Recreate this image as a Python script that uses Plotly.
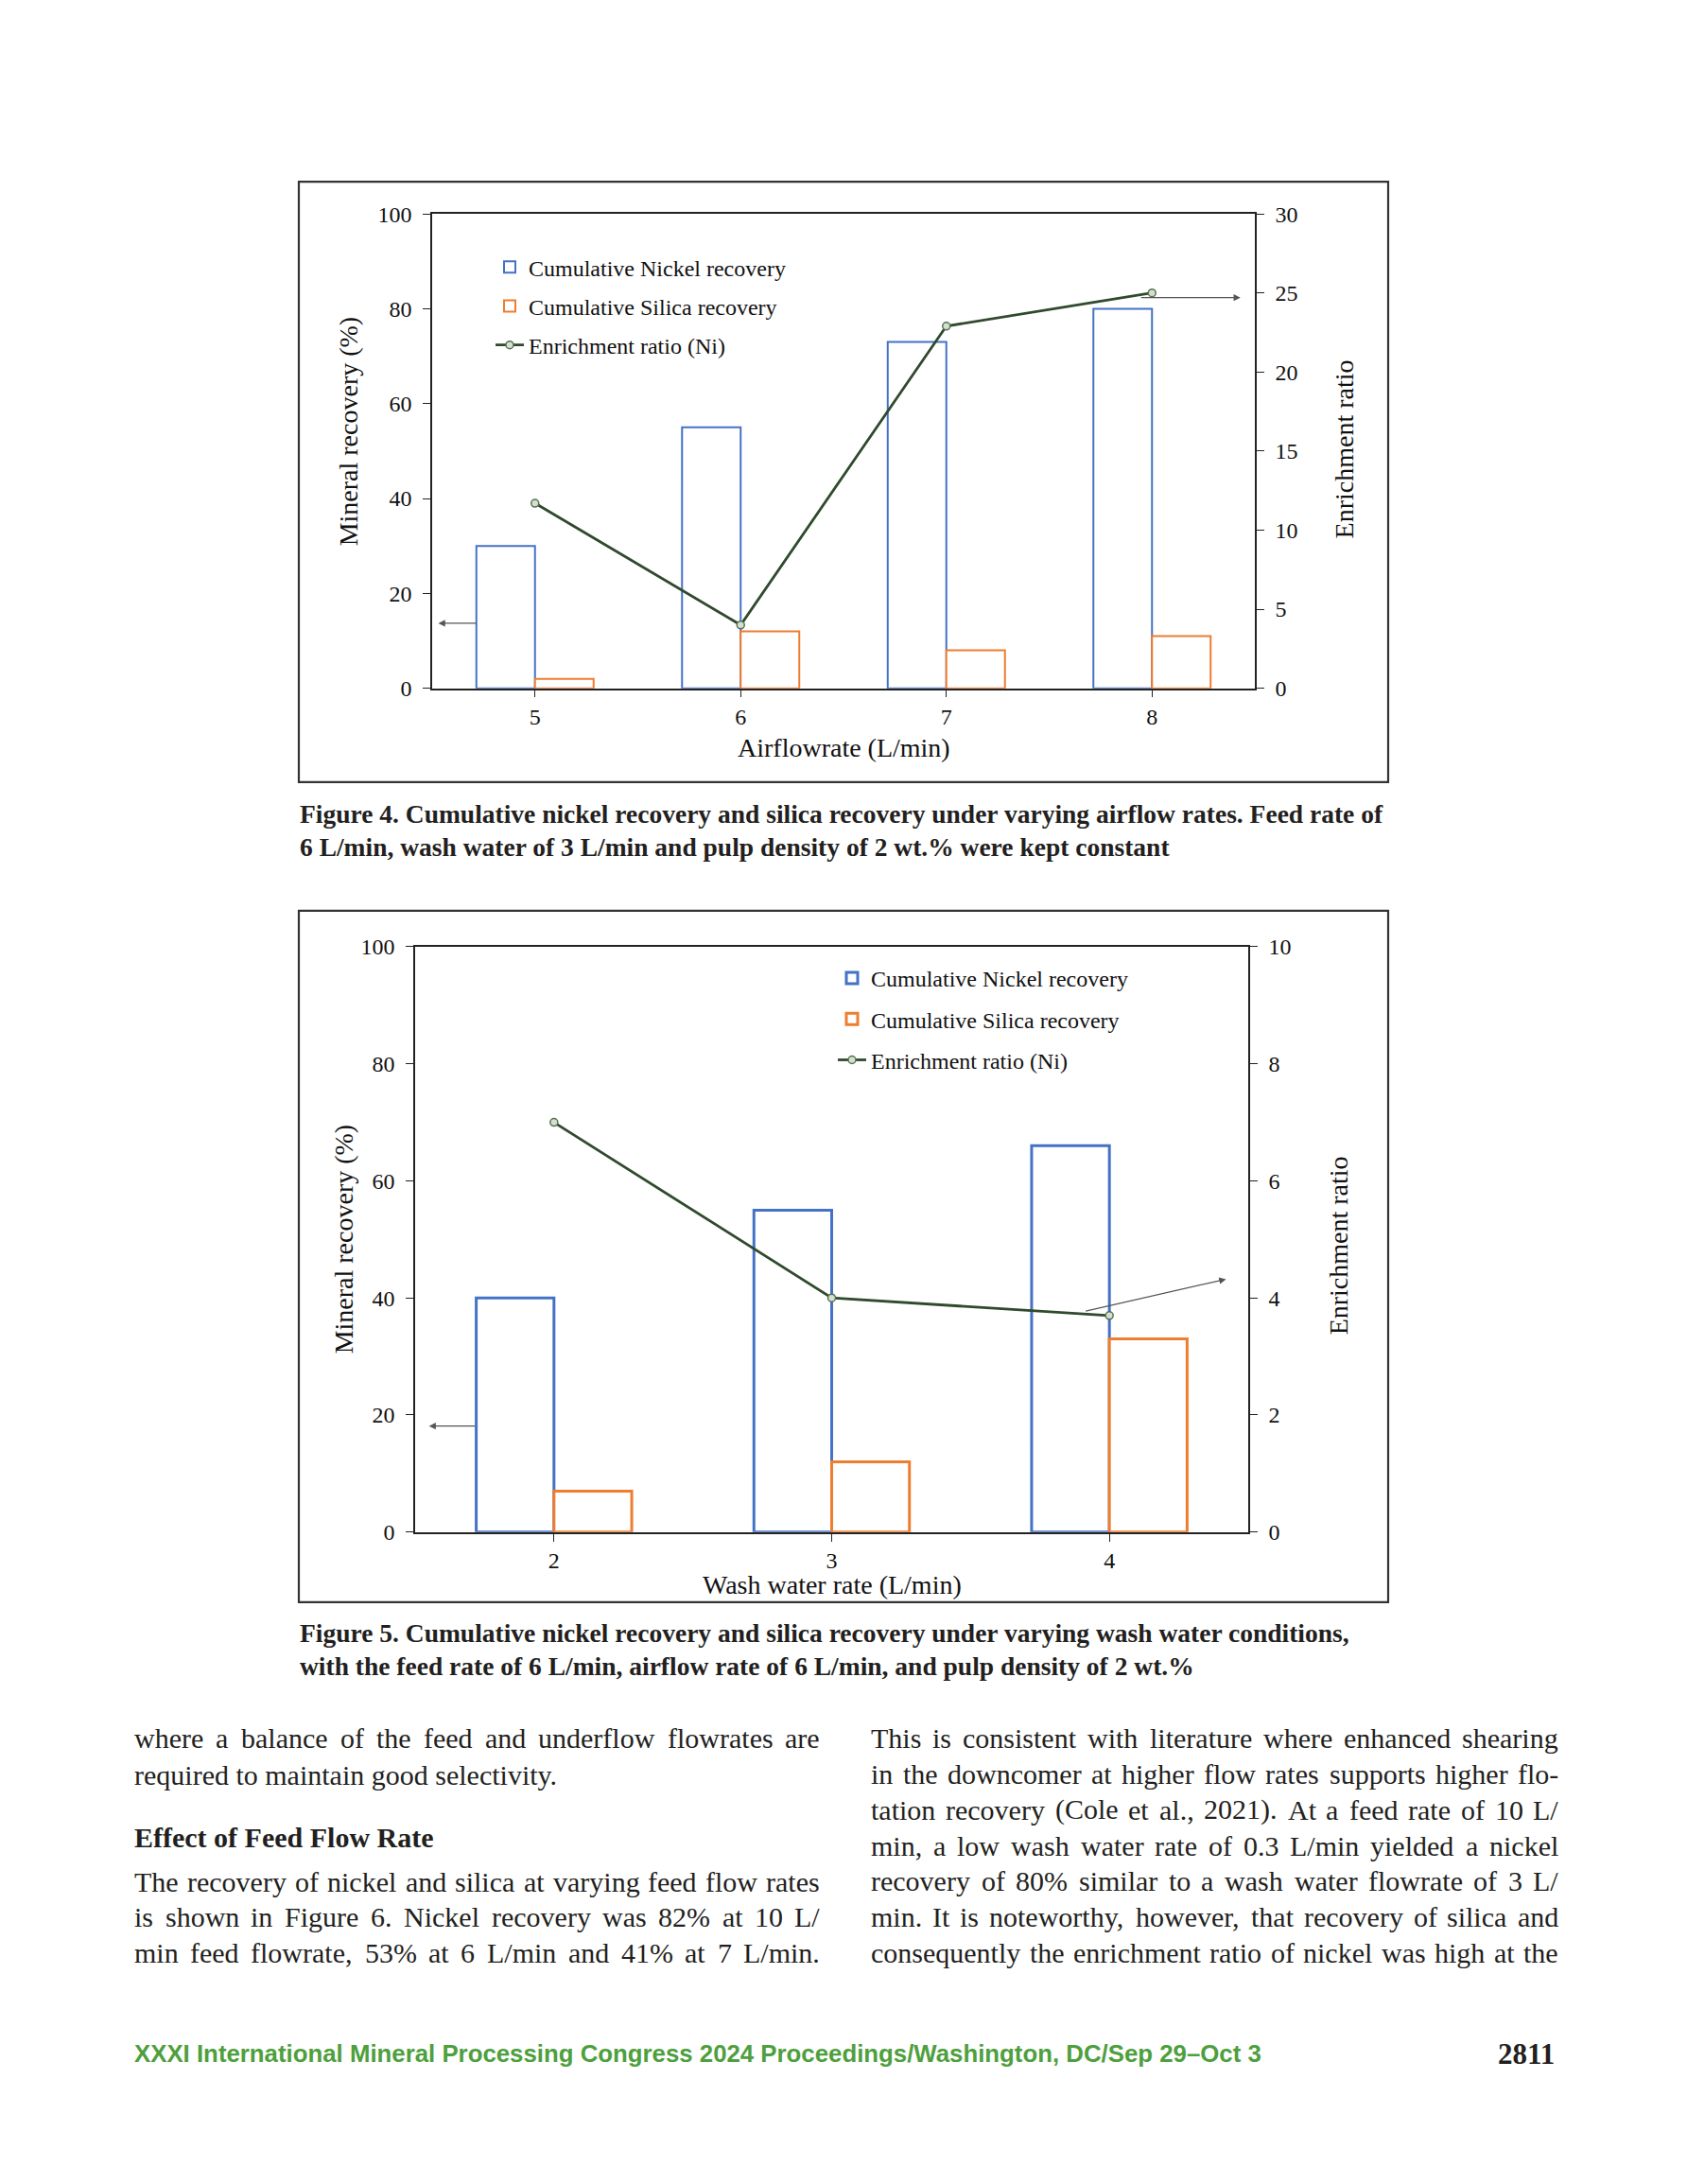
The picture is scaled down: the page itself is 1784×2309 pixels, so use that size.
import plotly.graph_objects as go

W, H = 1784, 2309

# ---------------- data ----------------
air_rates = [5, 6, 7, 8]
air_nickel = [30, 55, 73, 80]
air_silica = [2, 12, 8, 11]
air_enrich = [11.7, 4.0, 22.9, 25.0]

wash_rates = [2, 3, 4]
wash_nickel = [40, 55, 66]
wash_silica = [7, 12, 33]
wash_enrich = [7.0, 4.0, 3.7]

legend_names = ["Cumulative Nickel recovery", "Cumulative Silica recovery", "Enrichment ratio (Ni)"]

# pointer arrows (data units): (tail_x, tail_y, head_x, head_y)
air_arrow_left = (4.72, 13.7, 4.53, 13.7)
air_arrow_right = (7.94, 24.7, 8.43, 24.7)
wash_arrow_left = (1.72, 18.1, 1.55, 18.1)
wash_arrow_right = (3.91, 3.77, 4.42, 4.32)

caption4 = ["Figure 4. Cumulative nickel recovery and silica recovery under varying airflow rates. Feed rate of",
            "6 L/min, wash water of 3 L/min and pulp density of 2 wt.% were kept constant"]
caption5 = ["Figure 5. Cumulative nickel recovery and silica recovery under varying wash water conditions,",
            "with the feed rate of 6 L/min, airflow rate of 6 L/min, and pulp density of 2 wt.%"]
left_col = ["where a balance of the feed and underflow flowrates are",
            "required to maintain good selectivity."]
heading = "Effect of Feed Flow Rate"
left_col2 = ["The recovery of nickel and silica at varying feed flow rates",
             "is shown in Figure 6. Nickel recovery was 82% at 10 L/",
             "min feed flowrate, 53% at 6 L/min and 41% at 7 L/min."]
right_col = ["This is consistent with literature where enhanced shearing",
             "in the downcomer at higher flow rates supports higher flo-",
             "tation recovery (Cole et al., 2021). At a feed rate of 10 L/",
             "min, a low wash water rate of 0.3 L/min yielded a nickel",
             "recovery of 80% similar to a wash water flowrate of 3 L/",
             "min. It is noteworthy, however, that recovery of silica and",
             "consequently the enrichment ratio of nickel was high at the"]
footer = "XXXI International Mineral Processing Congress 2024 Proceedings/Washington, DC/Sep 29\u2013Oct 3"
page_no = "2811"

# ---------------- styles ----------------
BLUE = "#4472C4"
ORANGE = "#ED7D31"
LINE = "#2F4A2C"
SERIF = "Liberation Serif"
TXT = "#231F20"
AX = "#111"

# Times (Liberation Serif) advance widths, 1/1000 em, used only to justify body text
_TW = {' ': 250, '!': 333, '%': 833, '(': 333, ')': 333, ',': 250, '-': 333, '.': 250, '/': 278, ':': 278,
       ';': 278, '?': 444, '\u2013': 500,
       'A': 722, 'B': 667, 'C': 667, 'D': 722, 'E': 611, 'F': 556, 'G': 722, 'H': 722, 'I': 333, 'J': 389,
       'K': 722, 'L': 611, 'M': 889, 'N': 722, 'O': 722, 'P': 556, 'Q': 722, 'R': 667, 'S': 556, 'T': 611,
       'U': 722, 'V': 722, 'W': 944, 'X': 722, 'Y': 722, 'Z': 611,
       'a': 444, 'b': 500, 'c': 444, 'd': 500, 'e': 444, 'f': 333, 'g': 500, 'h': 500, 'i': 278, 'j': 278,
       'k': 500, 'l': 278, 'm': 778, 'n': 500, 'o': 500, 'p': 500, 'q': 500, 'r': 333, 's': 389, 't': 278,
       'u': 500, 'v': 500, 'w': 722, 'x': 500, 'y': 500, 'z': 444}


def tw(s, size):
    return sum(_TW.get(c, 500) for c in s) * size / 1000.0


def px(x):
    return x / W


def py(y):
    # small vertical calibration so the page lines up with the reference scan
    yt = 1.01256 * y - 14.33
    return 1 - yt / H


fig = go.Figure()

# chart 1 (airflow)
bw1 = 0.285
fig.add_trace(go.Bar(x=air_rates, y=air_nickel, name=legend_names[0], width=bw1, offset=-bw1,
                     marker=dict(color="white", line=dict(color=BLUE, width=2)),
                     xaxis="x", yaxis="y", legend="legend", legendgroup="a"))
fig.add_trace(go.Bar(x=air_rates, y=air_silica, name=legend_names[1], width=bw1, offset=0,
                     marker=dict(color="white", line=dict(color=ORANGE, width=2)),
                     xaxis="x", yaxis="y", legend="legend", legendgroup="b"))
fig.add_trace(go.Scatter(x=air_rates, y=air_enrich, name=legend_names[2], mode="lines+markers",
                         line=dict(color=LINE, width=2.8),
                         marker=dict(symbol="circle", size=8, color="#D5DED1", line=dict(color="#56724F", width=1.5)),
                         xaxis="x", yaxis="y2", legend="legend", legendgroup="c"))

# chart 2 (wash water)
bw2 = 0.28
fig.add_trace(go.Bar(x=wash_rates, y=wash_nickel, name=legend_names[0], width=bw2, offset=-bw2,
                     marker=dict(color="white", line=dict(color=BLUE, width=3)),
                     xaxis="x2", yaxis="y3", legend="legend2", legendgroup="d"))
fig.add_trace(go.Bar(x=wash_rates, y=wash_silica, name=legend_names[1], width=bw2, offset=0,
                     marker=dict(color="white", line=dict(color=ORANGE, width=3)),
                     xaxis="x2", yaxis="y3", legend="legend2", legendgroup="e"))
fig.add_trace(go.Scatter(x=wash_rates, y=wash_enrich, name=legend_names[2], mode="lines+markers",
                         line=dict(color=LINE, width=2.8),
                         marker=dict(symbol="circle", size=8, color="#D5DED1", line=dict(color="#56724F", width=1.5)),
                         xaxis="x2", yaxis="y4", legend="legend2", legendgroup="f"))

axis_common = dict(showline=True, linecolor="#222", linewidth=1.6, ticks="outside", ticklen=8,
                   tickcolor="#222", tickwidth=1.4, showgrid=False, zeroline=False,
                   tickfont=dict(family=SERIF, size=24, color=AX))
yax = dict(axis_common, ticklabelstandoff=7)

fig.update_layout(
    width=W, height=H, margin=dict(l=0, r=0, t=0, b=0),
    paper_bgcolor="white", plot_bgcolor="white", barmode="overlay",
    xaxis=dict(domain=[px(457), px(1327)], anchor="y", range=[4.5, 8.5], tickvals=air_rates,
               mirror=True, **axis_common),
    yaxis=dict(domain=[py(728), py(227)], anchor="x", range=[0, 100], dtick=20, **yax),
    yaxis2=dict(overlaying="y", side="right", anchor="x", range=[0, 30], dtick=5, **yax),
    xaxis2=dict(domain=[px(439), px(1320)], anchor="y3", range=[1.5, 4.5], tickvals=wash_rates,
                mirror=True, **axis_common),
    yaxis3=dict(domain=[py(1619), py(1001)], anchor="x2", range=[0, 100], dtick=20, **yax),
    yaxis4=dict(overlaying="y3", side="right", anchor="x2", range=[0, 10], dtick=2, **yax),
    legend=dict(x=px(519), y=py(261), xanchor="left", yanchor="top", bgcolor="rgba(0,0,0,0)",
                font=dict(family=SERIF, size=24, color=AX), tracegroupgap=7, itemwidth=30),
    legend2=dict(x=px(881), y=py(1012), xanchor="left", yanchor="top", bgcolor="rgba(0,0,0,0)",
                 font=dict(family=SERIF, size=24, color=AX), tracegroupgap=9, itemwidth=30),
    showlegend=True,
)

# frames
for (x0, y0, x1, y1) in [(316, 193, 1468, 827), (316, 963, 1468, 1693)]:
    fig.add_shape(type="rect", xref="paper", yref="paper", x0=px(x0), x1=px(x1), y0=py(y0), y1=py(y1),
                  line=dict(color="#333", width=2.2), fillcolor="rgba(0,0,0,0)")

ann = []


def text(x, y, s, size, anchor="left", bold=False, angle=0, color=TXT, family=SERIF):
    ann.append(dict(x=px(x), y=py(y), xref="paper", yref="paper", text=("<b>%s</b>" % s) if bold else s,
                    showarrow=False, xanchor=anchor, yanchor="middle", textangle=angle,
                    font=dict(family=family, size=size, color=color)))


def justified(x0, x1, y, s, size):
    words = s.split(" ")
    natural = sum(tw(w, size) for w in words)
    gap = (x1 - x0 - natural) / (len(words) - 1)
    x = x0
    for w in words:
        text(x, y, w, size)
        x += tw(w, size) + gap


# axis titles
text(368, 457, "Mineral recovery (%)", 28, "center", angle=-90, color=AX)
text(1421, 476, "Enrichment ratio", 28, "center", angle=-90, color=AX)
text(892, 791, "Airflowrate (L/min)", 28, "center", color=AX)
text(363, 1310, "Mineral recovery (%)", 28, "center", angle=-90, color=AX)
text(1415, 1317, "Enrichment ratio", 28, "center", angle=-90, color=AX)
text(880, 1675, "Wash water rate (L/min)", 28, "center", color=AX)

# arrows
for (arr, xr, yr) in [(air_arrow_left, "x", "y"), (air_arrow_right, "x", "y2"),
                      (wash_arrow_left, "x2", "y3"), (wash_arrow_right, "x2", "y4")]:
    ann.append(dict(x=arr[2], y=arr[3], ax=arr[0], ay=arr[1], xref=xr, yref=yr, axref=xr, ayref=yr,
                    showarrow=True, arrowhead=2, arrowsize=1.2, arrowwidth=1.2, arrowcolor="#555", text=""))

# captions
for i, s in enumerate(caption4):
    text(315, 861 + 35 * i, s, 27.5, bold=True)
for i, s in enumerate(caption5):
    text(315, 1726 + 35 * i, s, 27.5, bold=True)

# body text
BODY = 30
LX0, LX1, RX0, RX1 = 140, 865, 919, 1646
justified(LX0, LX1, 1837, left_col[0], BODY)
text(LX0, 1875, left_col[1], BODY)
text(LX0, 1941, heading, BODY, bold=True)
for i, s in enumerate(left_col2):
    justified(LX0, LX1, 1988 + 37.6 * i, s, BODY)
for i, s in enumerate(right_col):
    justified(RX0, RX1, 1837 + 37.7 * i, s, BODY)

text(140, 2170, footer, 25.8, bold=True, color="#4E9F3D", family="Liberation Sans")
text(1646, 2170, page_no, 31, anchor="right", bold=True)

fig.update_layout(annotations=ann)
fig.write_html("out.html", post_script="document.body.style.margin='0px';",
               config={"displayModeBar": False})
